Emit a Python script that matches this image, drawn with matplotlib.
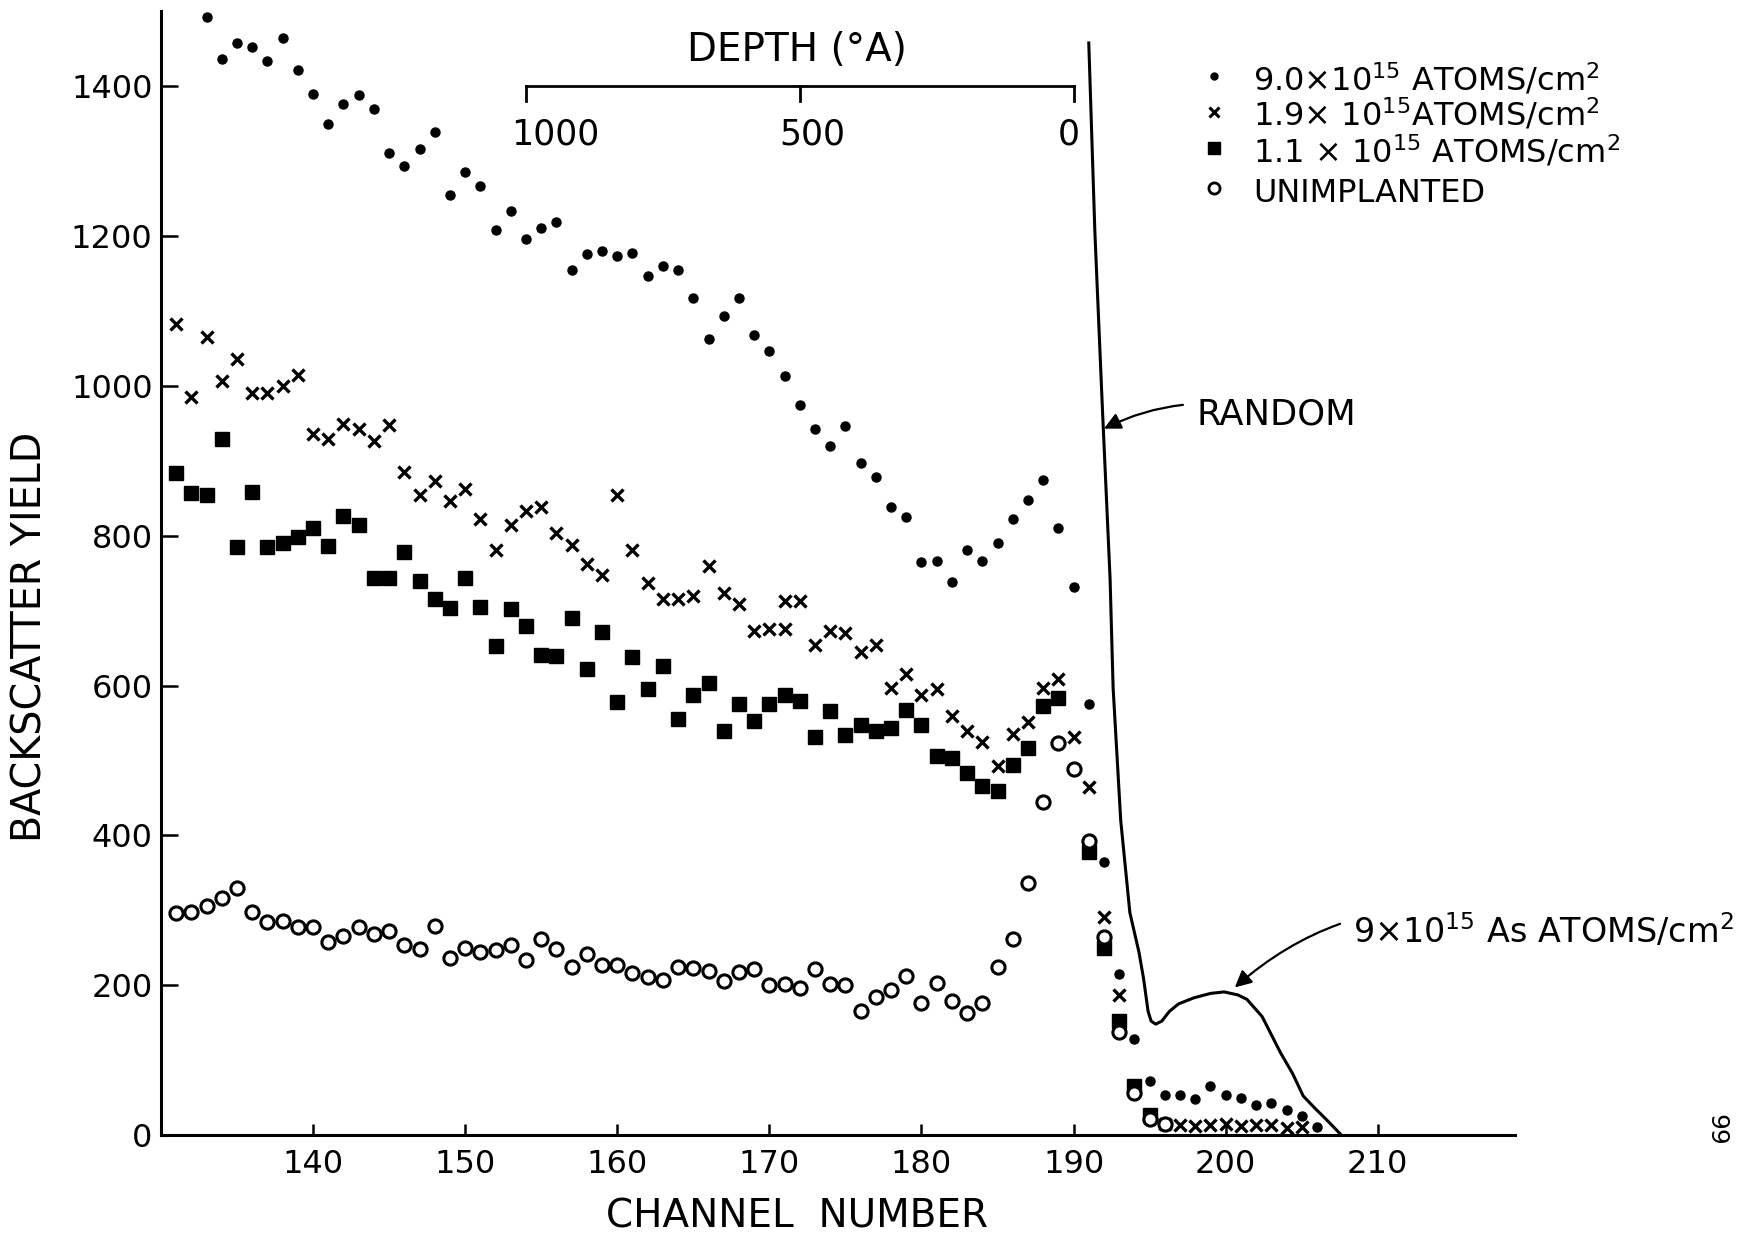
import matplotlib.pyplot as plt

plt.rcParams['font.family'] = ['DejaVu Sans']
plt.rcParams['mathtext.fontset'] = 'dejavusans'

# ---- data (channel number, backscatter yield) ----
# 9.0e15 atoms/cm2
dose90_ch = list(range(133, 207))
dose90_y = [1492, 1436, 1458, 1452, 1434, 1465, 1422, 1390, 1350, 1377,
            1389, 1370, 1311, 1294, 1317, 1339, 1255, 1286, 1267, 1208,
            1233, 1196, 1211, 1219, 1155, 1176, 1180, 1174, 1177, 1147,
            1160, 1155, 1117, 1063, 1094, 1117, 1068, 1047, 1013, 974,
            943, 920, 947, 897, 879, 838, 825, 765, 766, 738,
            781, 766, 791, 823, 848, 875, 811, 732, 575, 365,
            215, 128, 72, 54, 53, 48, 65, 54, 49, 40,
            43, 33, 25, 11]

# 1.9e15 atoms/cm2
dose19_ch = list(range(131, 172)) + [171] + list(range(172, 194)) + list(range(195, 206))
dose19_y = [1083, 985, 1066, 1007, 1036, 991, 991, 1000, 1015, 936,
            929, 949, 942, 927, 948, 885, 855, 873, 846, 862,
            823, 781, 814, 833, 838, 804, 788, 762, 747, 855,
            781, 737, 715, 716, 720, 760, 724, 709, 673, 676,
            675, 713, 713, 654, 673, 670, 645, 654, 597, 615,
            588, 595, 559, 540, 524, 492, 536, 551, 597, 609,
            532, 464, 291, 187,
            22, 14, 13, 12, 13, 15, 12, 13, 13, 9, 11]

# 1.1e15 atoms/cm2
dose11_ch = list(range(131, 190)) + list(range(191, 196))
dose11_y = [884, 857, 854, 929, 785, 859, 785, 790, 799, 810,
            786, 827, 814, 744, 744, 779, 739, 715, 703, 743,
            705, 653, 702, 680, 641, 639, 690, 622, 672, 578,
            638, 595, 626, 556, 587, 604, 540, 576, 553, 576,
            587, 579, 531, 566, 534, 548, 539, 543, 567, 547,
            506, 503, 483, 466, 459, 494, 516, 573, 584,
            378, 250, 152, 65, 26]

# unimplanted
unimp_ch = list(range(131, 197))
unimp_y = [296, 298, 306, 316, 330, 298, 284, 286, 277, 278,
           258, 266, 278, 268, 272, 253, 248, 279, 236, 250,
           244, 247, 253, 234, 261, 248, 224, 241, 227, 227,
           216, 211, 207, 224, 223, 219, 205, 218, 222, 200,
           201, 196, 222, 202, 200, 166, 184, 194, 212, 176,
           203, 179, 163, 176, 224, 261, 337, 444, 523, 488,
           392, 264, 138, 56, 21, 15]

# random spectrum (solid curve)
random_ch = [191.0, 191.4, 191.9, 192.4, 192.6, 193.1, 193.7, 194.3, 194.6,
             194.9, 195.1, 195.4, 195.8, 196.3, 196.9, 197.9, 199.0, 199.9,
             200.8, 201.4, 202.4, 203.6, 204.4, 205.1, 205.9, 206.6, 207.6]
random_y = [1458, 1206, 968, 743, 597, 420, 297, 244, 209,
            165, 152, 148, 152, 165, 175, 183, 189, 191,
            187, 181, 158, 110, 82, 52, 35, 21, 0]

# depth scale along the top
depth_labels = ['1000', '500', '0']
depth_ch = [154, 172, 190]
depth_label_ch = [155.9, 172.8, 189.7]

legend_labels = ['9.0$\\times$10$^{15}$ ATOMS/cm$^2$',
                 '1.9$\\times$ 10$^{15}$ATOMS/cm$^2$',
                 '1.1 $\\times$ 10$^{15}$ ATOMS/cm$^2$',
                 'UNIMPLANTED']

fig = plt.figure(figsize=(17.38, 12.35), dpi=100)
ax = fig.add_axes([0.0926, 0.081, 0.7789, 0.9097])

ax.plot(dose90_ch, dose90_y, 'o', ms=6.5, color='black')
ax.plot(dose19_ch, dose19_y, 'x', ms=8, color='black', mew=2.4)
ax.plot(dose11_ch, dose11_y, 's', ms=10.5, color='black')
ax.plot(unimp_ch, unimp_y, 'o', ms=9.5, mfc='white', mec='black', mew=2.2)
ax.plot(random_ch, random_y, '-', color='black', lw=2.2)

# axes
ax.set_xlim(130, 219)
ax.set_ylim(0, 1500)
ax.set_xticks(range(140, 211, 10))
ax.set_yticks(range(0, 1401, 200))
for s in ['top', 'right']:
    ax.spines[s].set_visible(False)
for s in ['left', 'bottom']:
    ax.spines[s].set_linewidth(2.2)
ax.tick_params(axis='y', direction='in', length=12, width=1.8, labelsize=23, pad=6)
ax.tick_params(axis='x', direction='in', length=8, width=1.8, labelsize=23, pad=10)

fig.text(31 / 1738, 1 - 637 / 1235, 'BACKSCATTER YIELD', rotation=90,
         ha='center', va='center', fontsize=28.5)
fig.text(797 / 1738, 1 - 1217 / 1235, 'CHANNEL  NUMBER',
         ha='center', va='center', fontsize=28)

# depth bar
ax.plot([depth_ch[0], depth_ch[-1]], [1401, 1401], color='black', lw=2, clip_on=False)
for lab, c, lc in zip(depth_labels, depth_ch, depth_label_ch):
    ax.plot([c, c], [1401, 1381], color='black', lw=2, clip_on=False)
    ax.text(lc, 1336, lab, ha='center', va='center', fontsize=25)
ax.text(171.8, 1449, 'DEPTH (°A)', ha='center', va='center', fontsize=28)

# annotations
ax.annotate('RANDOM', xy=(192.0, 943), xytext=(198.1, 962),
            ha='left', va='center', fontsize=25.5,
            arrowprops=dict(arrowstyle='-|>', color='black', lw=1.6,
                            mutation_scale=25, shrinkA=8, shrinkB=0,
                            connectionstyle='arc3,rad=0.2'))
ax.annotate('9$\\times$10$^{15}$ As ATOMS/cm$^2$', xy=(200.6, 197), xytext=(208.4, 272),
            ha='left', va='center', fontsize=24,
            arrowprops=dict(arrowstyle='-|>', color='black', lw=1.6,
                            mutation_scale=25, shrinkA=8, shrinkB=0,
                            connectionstyle='arc3,rad=0.3'))

# legend, laid out like the hand-lettered key (rows 1-3 tight, row 4 set apart)
key_marker_y = [0.9426, 0.9108, 0.8785, 0.8429]
key_text_y = [0.9301, 0.8981, 0.8660, 0.8304]
key_styles = [dict(marker='o', ms=5, color='black'),
              dict(marker='x', ms=7, color='black', mew=2.2),
              dict(marker='s', ms=9, color='black'),
              dict(marker='o', ms=8, mfc='white', mec='black', mew=2)]
for lab, my, ty, st in zip(legend_labels, key_marker_y, key_text_y, key_styles):
    ax.plot([0.7779], [my], linestyle='none', transform=ax.transAxes,
            clip_on=False, **st)
    ax.text(0.8067, ty, lab, transform=ax.transAxes, ha='left',
            va='baseline', fontsize=23)

fig.text(1716 / 1738, 1 - 1130 / 1235, '99', rotation=270,
         ha='center', va='center', fontsize=18)

fig.savefig('out.png', dpi=100)
